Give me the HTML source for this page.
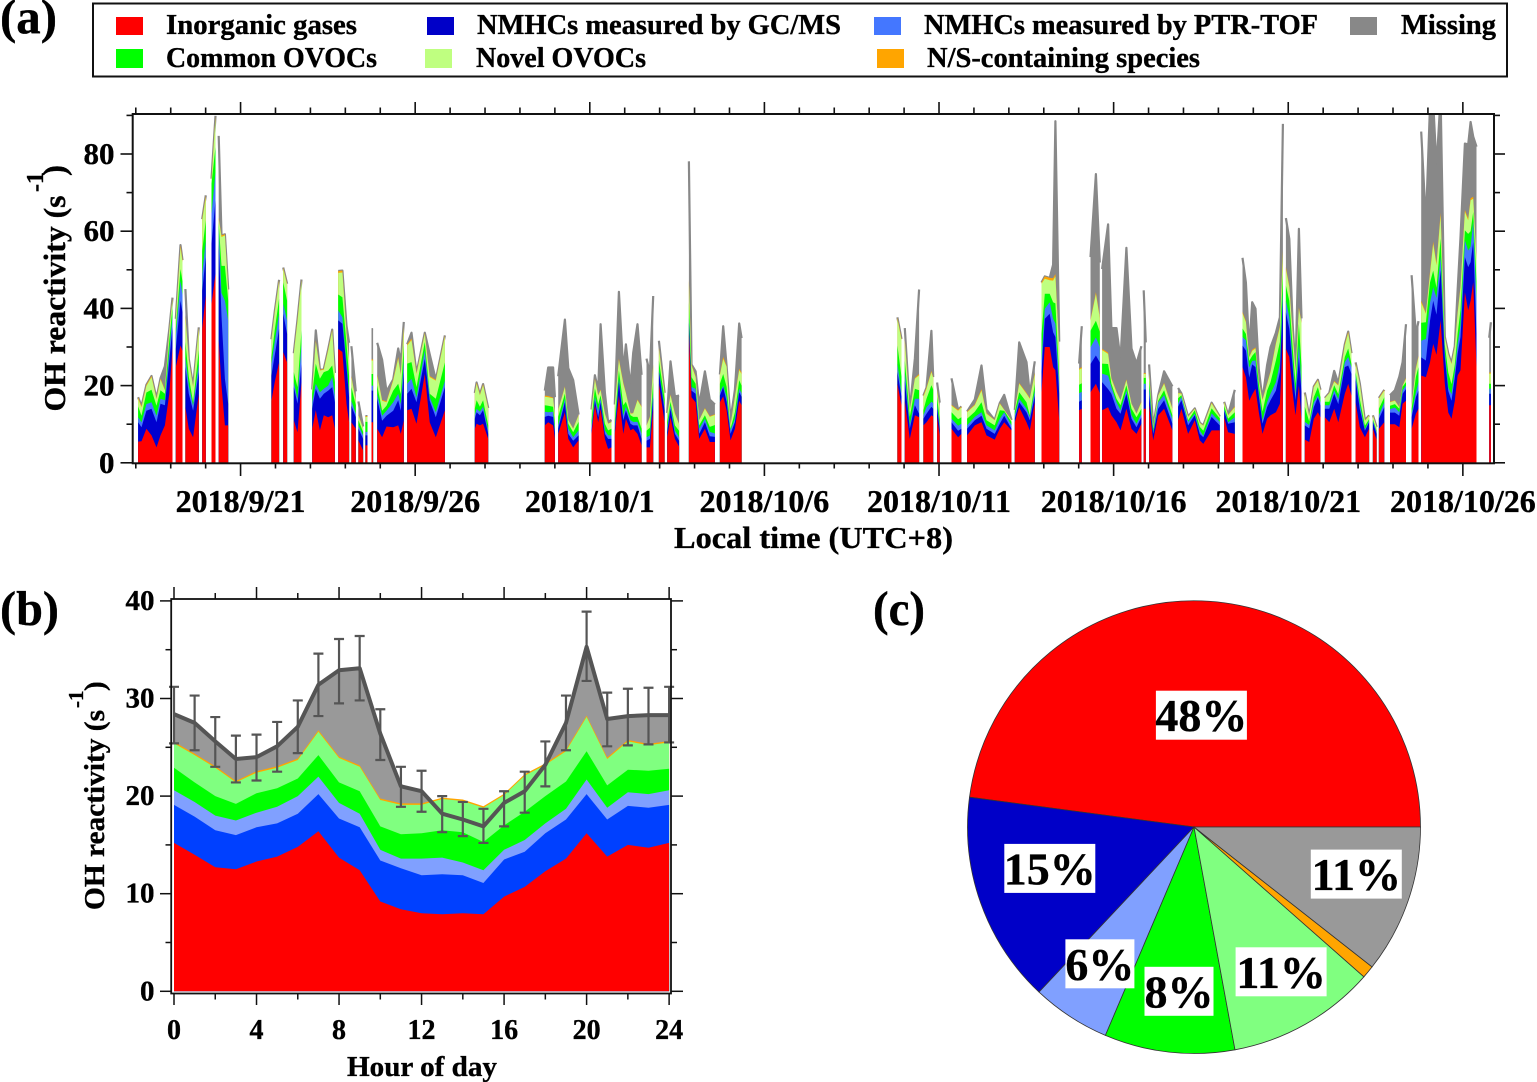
<!DOCTYPE html>
<html lang="en">
<head>
<meta charset="utf-8">
<title>OH reactivity time series, diurnal profile and composition</title>
<style>
html,body{margin:0;padding:0;background:#fff;}
svg{display:block;position:absolute;left:0;top:0;}
text{font-family:"Liberation Serif",serif;font-weight:bold;fill:#000;stroke:#000;stroke-width:.35px;}
</style>
</head>
<body>
<svg id="figure" xmlns="http://www.w3.org/2000/svg" width="1537" height="1082" viewBox="0 0 1537 1082">
  <rect x="0" y="0" width="1537" height="1082" fill="#fff"/>
  <text x="0" y="33" font-size="49" textLength="57" lengthAdjust="spacingAndGlyphs">(a)</text>
  <text x="0" y="625" font-size="49" textLength="59" lengthAdjust="spacingAndGlyphs">(b)</text>
  <text x="873" y="625" font-size="49" textLength="52" lengthAdjust="spacingAndGlyphs">(c)</text>

  <g>
    <rect x="93" y="3.5" width="1414" height="73" fill="none" stroke="#111" stroke-width="2"/>
    <rect x="116" y="17" width="27" height="18" fill="#ff0000"/>
    <text x="166" y="34" font-size="28" textLength="191" lengthAdjust="spacingAndGlyphs">Inorganic gases</text>
    <rect x="427" y="17" width="27" height="18" fill="#0000c8"/>
    <text x="477" y="34" font-size="28" textLength="364" lengthAdjust="spacingAndGlyphs">NMHCs measured by GC/MS</text>
    <rect x="874" y="17" width="27" height="18" fill="#4477ff"/>
    <text x="924" y="34" font-size="28" textLength="394" lengthAdjust="spacingAndGlyphs">NMHCs measured by PTR-TOF</text>
    <rect x="1350" y="17" width="27" height="18" fill="#888888"/>
    <text x="1401" y="34" font-size="28" textLength="95" lengthAdjust="spacingAndGlyphs">Missing</text>
    <rect x="116" y="49" width="27" height="19" fill="#00ff00"/>
    <text x="166" y="67" font-size="28" textLength="211" lengthAdjust="spacingAndGlyphs">Common OVOCs</text>
    <rect x="425" y="49" width="27" height="19" fill="#bfff80"/>
    <text x="476" y="67" font-size="28" textLength="170" lengthAdjust="spacingAndGlyphs">Novel OVOCs</text>
    <rect x="877" y="49" width="27" height="19" fill="#ffa500"/>
    <text x="927" y="67" font-size="28" textLength="273" lengthAdjust="spacingAndGlyphs">N/S-containing species</text>
  </g>

  <defs>
    <clipPath id="plot-a-clip"><rect x="133" y="115" width="1361" height="348"/></clipPath>
  </defs>
  <g id="panel-a"></g>
  <text x="813.5" y="548" font-size="31" text-anchor="middle" textLength="279" lengthAdjust="spacingAndGlyphs">Local time (UTC+8)</text>
  <text transform="translate(65,411.5) rotate(-90)" font-size="31" textLength="216" lengthAdjust="spacingAndGlyphs">OH reactivity (s</text>
  <text transform="translate(43,192) rotate(-90)" font-size="24">-1</text>
  <text transform="translate(65,176) rotate(-90)" font-size="33">)</text>

  <g id="panel-b"></g>
  <text x="422" y="1076" font-size="29" text-anchor="middle" textLength="150" lengthAdjust="spacingAndGlyphs">Hour of day</text>
  <text transform="translate(104,910) rotate(-90)" font-size="28" textLength="200" lengthAdjust="spacingAndGlyphs">OH reactivity (s</text>
  <text transform="translate(83,708) rotate(-90)" font-size="21">-1</text>
  <text transform="translate(104,691) rotate(-90)" font-size="29">)</text>

  <g id="panel-c"></g>
</svg>

<script>
/* ---------- Panel (a): hours since 2018/9/18 00:00, one sub-array per continuous data run ---------- */
const timeHours = [
[1.6,3.9,7.3,10.8,14.2,17,20,23,25.2],[27.5,30.7,32.1],[34.1,36.4,39.4,43.3],[45.6,48.1],[52,54.8],[57,58.9,61.2,63.5],
[93.2,95.5,98.5],[101.3,104],[108.6,111.1,113.9],[121.2,123.7,126.5,129.2,132.2,135,136.8],[139.1,142,144.8,146.6],[148.2,151.2],[153,156.2],[157.8,159.2],[162,163.1],
[165.9,169.3,172.3,176.9,180.3,182.1,184.2],[186.5,189.5,192.9,198.6,202,206.2,212.4],[233,234.2,236.5,238.7,242.2],
[281.1,283.4,286.8,288],[290.3,294.9,297.2,300.6,304.3],[313.2,315.5,317.8,319.4,322.4,324.6,326.9],[329.2,332,335,336.8,340,341.8,344.8,347.6],[351,353.3,355.6],[359.5,363.4],[365.2,367.5,370.5,373.4],
[380.1,381.9,384.7,387.2,391.1,394.5,398],[401.4,403.7,406,408.7,411.7,414.7,416.3],
[523.4,526.2],[528.5,531.9,535.4,538.3],[541.3,543.4,546.8,548],[550.7,552.5],[560.6,565.1,567.4],[571.3,576.6,581.2,584.6,590.3,593.8,596.8,601.8],[604.1,607.1,612.1,614.4,617.8],[622.4,624.7,628.1,630.4,632,634.6],
[648.3,650.1],[656.1,659.8,662.5],[664.1,668.2,670.5,674,676.7,680.8,684.3,687.7,691.1],[692.7,694.1],[696.4,699.2,702.6,706.7,712.4],[716.3,718.6,723.2,727.8,731.2,733.6,739.3,745],[748,750.7,755.3],
[760.6,762.9,765.2,767.2,769.5,771.8,774.3,777.5,779.8,783.5,786.3,788.3],[790.4,792.7,795,797,799.3,801.1],[803.4,806.4,809.6,812.4,814.2],[817.2,820.2,823.6,826.4,830.9,833.2,835.5],[838.3,841.2,844.7,847.6],[850.2,852.7],[854.3,858],[861.9,865.3,868.3,870.6,872.9],[876.8,879.7,881.5],
[883.4,886.6,889.4,891.6,893.9,896.7,899.6,902,904.2,906.5,908.4,910.4,913.4,915.7,917.3,919.1,921.4],[930.1,931.3]
];
const inorganicGases = [
[5.5,5.6,8.8,7.1,4,7.1,9.7,17.9,29.8],[24.8,30.4,29],[14.4,8.8,6.6,17.9],[34.7,43.4],[41.2,49],[31.7,20,9.7,9.7],
[16.1,21,26],[28.7,26],[11,7.9,20.9],[8.8,13.6,8.4,12.3,11.8,12.3,8.8],[29.5,28.7,15.3,10.5],[10.5,8.8],[5.8,3.2],[4.5,4.5],[10.5,10.5],
[8.8,6.6,9.4,9.2,9.7,7.5,11],[13.6,14,10.1,23,10.5,6.6,13.6],[8.8,10.1,9.7,10.1,6.2],
[9.7,10.5,9.7,6.2],[7.5,13.1,6.2,4,5.8],[7.5,14.9,10.5,14,6.2,3.6,4],[7.5,17.4,7.5,11.4,8.4,8.8,7.5,4.5],[4,4,14],[20.5,10.5],[6.6,11.8,6.2,4.2],
[33.4,17,15.7,6.2,8.8,5.4,5.4],[15.7,17.2,13.6,5.8,8.8,16.1,14.9],
[20.5,14.9],[16.1,6.2,12.3,11.8],[9.7,10.5,12.3,12],[11.8,7],[8.8,6.6,7.5],[7.1,9.7,10.5,7.1,6,8.8,10.5,8.4],[10.5,14.4,10.5,8.4,15.7],[18.3,30,30,24.8,24,11],
[13.6,14],[18.3,20.5,18],[13.6,14.4,12.3,10.5,8.4,14,8.8,7.5,10.1],[14,14],[14.9,5.8,12.3,14,8.4],[11,14,7.5,11,5.8,4.9,8.4,8.4],[11.8,7.9,7.5],
[24.8,22.2,16.1,17.7,19.2,13.1,7.5,11.4,12.3,13.1,15.3,33],[29.5,27.4,18.3,12.3,20,11],[6,5.4,11.4,13.1,11.8],[11.8,10.5,14,10.5,17.9,20.5,17.4],[15.7,9.2,6.6,8.8],[8.8,6],[8.8,10.5],[10,10,9.2,15.3,16.1],[8.8,12.7,14],
[22.6,22.2,26,30.8,28,36.9,20.5,13,11.4,16,22.6,24,44.2,39.5,42,46.8,24.8],[14.9,14.9]
];
const nmhcGcms = [
[5,3.6,4.7,6.9,6.5,8.2,5.2,8.6,5.4],[4.7,11.6,10],[10.4,9.1,6.9,5.6],[9.9,9.9],[15.5,19],[25,18,12.1,5.6],
[6.5,7,8.7],[9.9,7.4],[8.6,7.4,4.7],[5.2,5.6,8.2,5.6,6.9,7.3,6.9],[7.4,7.3,9.5,6.5],[4.3,3],[3,3],[2.6,2.6],[8.2,8.2],
[7.8,4.3,2.8,4.3,6.5,6,12.5],[4.3,5.2,5.6,3.9,5.6,5.2,6],[2.6,3,2.6,3.5,1.3],
[2.2,1.7,2.2,1.5],[1.3,2.6,1.3,1.7,1.3],[.9,1.3,1.3,1.7,1.3,2.6,2.2],[.9,3.5,3.5,2.2,1.7,.9,2.2,1.7],[1.7,2.2,3],[3,3],[1.3,2.2,1.3,1.5],
[3,1.7,2.2,1.3,1.7,1.5,1.3],[1.7,2.4,2.2,1.7,1.7,2.2,2.2],
[3,2.2],[5.2,2.6,2.6,.9],[1.7,2.2,2.2,2],[2.2,1.7],[1.7,1.7,1.3],[1.7,1.3,1.7,1.7,1.5,1.3,1.7,.4],[.9,1.3,2.6,2.6,1.7],[5.2,7.3,8.6,9,8.6,6.9],
[2.2,2.2],[7.3,7.3,8],[7.3,4.7,5.6,3.5,4.3,3.9,2.6,1.7,1.7],[5,5],[2.6,1.7,1.7,2.2,1.7],[3.5,2.2,2.2,1.3,1.7,1.7,3.5,1.3],[1.7,2.2,3],
[5.6,6.9,6,7.8,5.6,4.3,2.6,3,3.9,5.6,8.2,9],[9.5,7.3,6.5,3.9,7.3,7.3],[3.7,3.5,3,3.9,3],[2.2,3.5,3.9,4.7,6.9,4.7,5.6],[6,4.7,1.7,1.7],[1.7,1.5],[2.6,3.9],[3,3,3,2.6,3],[3,4.3,4.7],
[4.7,4.3,10.8,11.2,10.4,13,6.9,5.6,4.7,6,5.6,8.6,9.1,11.2,10,10.4,8.6],[3,3]
];
const nmhcPtrTof = [
[1.3,1.3,1.7,1.7,1.7,1.3,1.3,2.6,2.6],[3.5,5.2,4.5],[2.6,2.2,1.3,2.2],[4.3,4.3],[7.8,7.3],[4,6,20.2,21.6],
[3,3.5,3.9],[2.6,3.5],[1.3,1.3,5.2],[1.7,1.3,1.7,1.3,1.3,2.6,1.7],[2.6,1.7,.9,1],[1.3,.9],[.9,.9],[.9,.9],[1.3,1.3],
[1.3,1.3,1.3,2.2,1.7,1.7,3],[2.6,2.6,1.3,2.2,.9,1.3,1.7],[.9,.9,.9,.9,.9],
[1.3,.9,1.3,.9],[.9,.9,1.3,.9,1.3],[.9,.9,1.7,.9,.9,.9,.9],[.9,.9,1.3,.9,.9,.9,.9,1.3],[.9,.9,1.3],[.4,1],[.9,.9,.9,.9],
[1.3,.9,1.3,1.3,.9,1.1,.9],[.9,.4,1.3,.9,.9,.9,.9],
[2.2,.9],[2.2,.9,1.7,3.9],[.9,1.7,1.3,1.5],[.9,.9],[.9,1.3,1.3],[.9,.9,.9,.9,.9,1.3,.9,.9],[.9,.9,.9,.9,1.3],[3,2.6,3,3.5,3.5,2.6],
[2.2,2.2],[4.3,4.7,4],[2.2,3.5,1.7,1.7,.9,.9,.9,.9,.9],[1.5,1.5],[2.2,.4,1.7,1.3,1.3],[.9,.9,.9,.4,.9,.4,.9,.9],[.4,.4,1.3],
[2.2,2.6,2.6,.9,1.7,.9,.9,1.3,1.7,2.2,2.2,2.6],[3,3,1.7,1.7,3.5,1.7],[.9,.9,1.3,.4,.9],[.9,.9,.9,1.3,1.3,2.2,1.7],[.9,1.3,.4,.4],[.4,.4],[.9,1.3],[.9,1.3,.9,.9,.9],[.9,1.3,2.2],
[4.3,5.6,4.7,3.5,4.3,3.5,1.5,.9,1.7,1.7,2.6,3,4.3,4.3,4,5.2,8.6],[1.3,1.3]
];
const commonOvocs = [
[2.8,1.7,3,3.2,2.6,2.2,1.7,2.6,2.6],[1.7,3,3.5],[3.9,2.2,.9,3.5],[6,5.2],[7.8,6.5],[1.5,7,9,5.1],
[1.7,3,3.9],[5.6,5.1],[2.6,3,3.5],[2.2,5.2,3.5,4.3,3.9,3,3.5],[4.1,5.2,5.2,4.5],[3.5,2.2],[1.3,.9],[2.6,2.6],[3,3],
[2.2,1.3,1.3,3,2.6,2.6,4],[5.2,4.3,2.6,2.2,.9,3.5,4.7],[1.7,2.2,1.3,1.7,1.3],
[1.7,1.7,1.3,1.5],[2.2,1.3,1.3,1.3,2.2],[1.7,2.2,1.7,.9,1.7,1.3,1.7],[1.7,2.2,2.6,1.3,1.3,1.3,1.3,1.3],[1.7,2,2.6],[2.6,2],[1.7,.9,1.3,1.7],
[3.9,2.6,1.3,.9,.9,1.3,2.2],[2.2,3,2.6,.4,1.7,2.2,2],
[4.7,4.3],[3,2.2,2.6,2.2],[1.3,2.2,4.3,3.5],[2.2,1.5],[1.7,1.7,1.7],[1.7,1.3,2.6,1.3,1.3,2.2,.4,.9],[.9,1.7,1.7,.4,1.7],[6.9,3.9,2.2,4.3,5.2,1.7],
[2.2,2.2],[4.3,4.3,4],[2.6,3,.9,.9,1.3,1.3,1.7,1.7,1.3],[1.5,1.5],[1.7,.9,.4,1.3,.9],[1.3,.4,.4,.9,.9,1.3,1.3,.9],[.9,.9,1.3],
[2.2,1.7,1.7,1.3,2.2,2.2,2.2,3,3,5.6,5.6,4.3],[3.9,4.3,3.5,2.6,5.2,5.2],[3.9,.9,1.3,2.2,1.3],[.9,.9,1.3,1.3,1.3,2.2,.9],[.9,1.3,.9,.4],[.4,.4],[1.7,1.3],[.9,.9,.9,.9,.9],[1.3,4,3.9],
[4.7,4.3,5.2,4.3,2.6,4.7,1.7,3.9,2.6,1.7,2.6,4,2.6,4.3,4,2.6,5],[1.3,1.3]
];
const novelOvocs = [
[2,2.2,1.7,3.3,1.7,2.8,.9,2.6,2],[2.2,5.6,5],[6.5,4.3,3.9,5.6],[7.8,6],[.8,7.6],[1,7.5,7.9,2.6],
[4.4,4.5,4.5],[3.5,4.1],[4.7,17,12.9],[.9,5.6,2.1,.6,5.2,9,2.2],[5.6,6.4,2.6,4],[2.6,1.2],[1.3,.9],[1.3,1.3],[3.5,3.5],
[2.6,2.6,.9,2.6,6.5,5,4.5],[4.7,5.7,3.4,2.1,4.3,4.7,6.7],[3.9,4.3,3,3.9,4.3],
[2.2,2.2,2.2,2.2],[1.7,1.7,.9,.9,1.7],[2.6,2.2,2.2,1.3,2.6,1.7,1.7],[3.9,2.6,5.6,2.2,.4,.9,4.3,5.6],[1.3,2.7,4.3],[3,1.4],[2.2,1.7,3,1.7],
[5.2,3,1.7,1.3,1.7,2.6,2.6],[2.2,3.9,5.2,.9,3.9,2.6,3],
[6.9,9.4],[5.2,1.7,2.6,3.9],[3.5,2.6,3.4,3],[1.7,3],[1.7,2.2,2.6],[1.7,1.7,3,1.7,1.3,1.7,.2,.4],[.4,2.2,2.2,4.3,2.6],[13,3.9,3.5,5.6,7,6.9],
[3.9,3.9],[2.6,6.9,3.5],[3.5,2.6,1.3,1.7,1.3,1.3,1.3,.9,1.7],[1,1],[1.7,.4,1.3,1.7,1.7],[1.3,.4,.9,.4,1,1.3,1.3,.4],[.9,.9,1.3],
[3.9,3,.9,1.3,.9,.9,3,1.7,2.6,4.3,3.8,5.6],[4.3,3.5,3.9,3,3.9,11],[3.5,1.3,2.6,1.7,1.7],[.9,2.2,.9,2.2,3,4,2.6],[2.2,3.9,1.3,.9],[.9,.9],[2.6,1.7],[.9,.9,.4,.3,.9],[.9,2.1,2.6],
[5.2,2.2,2.2,6.9,5.9,6,1.9,4.7,5.2,4.6,5.2,5.8,4.8,3.5,8,3.4,5.5],[2.6,2.6]
];
const nsSpecies = [
[.4,.3,.3,.3,.2,.3,.2,.3,.4],[.4,.6,.5],[.3,.3,.2,.3],[.4,.5],[.5,.5],[.3,.4,.3,.3],
[.3,.3,.4],[.3,.3],[.2,.5,.3],[.2,.4,.2,.2,.3,.3,.2],[.5,.5,.3,.2],[.2,.2],[.2,.1],[.2,.2],[.3,.3],
[.2,.2,.2,.3,.4,.3,.3],[.3,.4,.2,.3,.3,.2,.3],[.2,.3,.2,.3,.2],
[.3,.3,.2,.2],[.2,.2,.1,.1,.2],[.2,.3,.2,.2,.2,.1,.1],[.2,.4,.3,.2,.1,.1,.2,.2],[.1,.2,.3],[.3,.2],[.2,.2,.2,.1],
[.6,.3,.2,.1,.2,.2,.2],[.2,.5,.2,.1,.2,.4,.3],
[.4,.4],[.4,.1,.2,.3],[.3,.3,.3,.2],[.2,.2],[.2,.2,.2],[.2,.2,.4,.2,.1,.2,.1,.1],[.1,.2,.2,.2,.3],[.3,.6,.6,.6,.6,.3],
[.3,.3],[.3,.5,.4],[.3,.3,.2,.2,.1,.2,.1,.1,.2],[.2,.2],[.2,.1,.1,.2,.2],[.1,.1,.1,.1,.1,.1,.2,.1],[.1,.1,.2],
[.4,.3,.2,.3,.3,.2,.2,.2,.3,.3,.4,.5],[.5,.4,.3,.2,.4,.2],[.2,.1,.2,.2,.2],[.1,.1,.2,.2,.3,.4,.2],[.3,.2,.1,.1],[.1,.1],[.2,.2],[.1,.1,.1,.1,.2],[.1,.3,.3],
[.5,.3,.6,.6,.5,.7,.2,.2,.2,.2,.4,.4,.5,.5,.5,.5,.4],[.3,.3]
];
const missingSpecies = [
[0,0,0,0,0,0,6,0,0],[0,0,0],[6.9,0,0,0],[0,0],[0,0],[21.2,0,0,0],
[0,0,0],[0,0],[0,0,0],[0,2.6,0,0,0,0,0],[0,0,1.7,4.4],[7.8,2.2],[3.4,.4],[0,0],[7.8,7.8],
[8.2,10.4,2.6,0,2.2,3,1.2],[0,1.5,0,0,5.6,0,0],[0,0,0,0,0],
[1.3,7.4,7.8,4.5],[8.6,17.3,13.4,12.5,0],[0,.9,1.3,16.9,5.2,.4,.5],[0,17.3,3,12.5,6.9,15.6,19.5,8.2],[17.3,11.2,17.7],[1.8,0],[0,8.6,4.3,7.3],
[30.7,0,1.3,3.9,9.5,4.3,2.5],[0,8,0,1.3,1.7,11.7,9],
[0,0],[2.8,0,5.1,21.9],[0,0,10.4,0],[1.8,1.3],[6.9,0,0],[0,1.3,6.1,.9,0,0,3.8,0],[0,10.5,8,1,3],[0,0,0,3.5,39.6,2],
[1.3,10.6],[16.2,30.6,14],[20.7,33.3,12.9,16.4,10.4,34.1,14.2,12.9,14.3],[21.5,8],[2.2,0,0,3,5.6],[1.3,0,0,0,0,0,0,0],[0,0,4.3],
[14,10,2,12.3,10,2.6,0,4.7,6.1,2.6,2.2,32.8],[12.7,12.1,2,0,20.3,1],[0,0,0,0,0],[0,0,2.6,.4,0,0,0],[0,0,0,0],[0,0],[0,0],[1.7,2.6,7.8,6,13.9],[33.6,8.6,9],
[43.8,23.3,43,36,25,30,0,0,0,0,5.6,12.6,17.2,19.2,19.8,15.6,29],[9,13]
];
const dateTickLabels = ['2018/9/21','2018/9/26','2018/10/1','2018/10/6','2018/10/11','2018/10/16','2018/10/21','2018/10/26'];
const reactivityTicksA = [0,20,40,60,80];

/* ---------- Panel (b): mean diurnal profile ---------- */
const hourOfDay = [0,1,2,3,4,5,6,7,8,9,10,11,12,13,14,15,16,17,18,19,20,21,22,23,24];
const diurnalInorganic = [15.2,14,12.7,12.5,13.3,13.8,14.8,16.4,13.7,12.4,9.2,8.4,8,7.9,8,7.9,9.7,10.7,12.3,13.6,16.2,13.8,15,14.7,15.2];
const diurnalNmhcGcms = [3.9,3.9,3.8,3.5,3.5,3.4,3.4,3.8,4,4.4,4.2,4.2,3.9,4.1,3.9,3.2,3.8,3.6,3.9,4,4,3.8,4,4.1,3.9];
const diurnalNmhcPtrTof = [1.5,1.5,1.5,1.5,1.5,1.7,1.8,1.8,1.6,1.4,1.1,1,1.7,1.7,1.3,1.3,1,1.2,1,1.1,1.5,1.2,1.4,1.4,1.5];
const diurnalCommonOvocs = [2.3,2,2,1.7,2,1.9,1.8,2.2,2.1,2.3,2.4,2.5,2.6,2.8,3.1,2.9,2.5,2.9,2.8,2.8,2.9,2.3,2.3,2.4,2.2];
const diurnalNovelOvocs = [2.5,2.8,2.9,2.2,2.1,2.1,1.9,2.4,2.5,2.5,2.7,3,2.9,3.2,3.2,3.5,3.1,3.7,3.2,3.1,3.5,2.7,2.9,2.6,2.7];
const diurnalNsSpecies = [.15,.15,.15,.15,.15,.15,.15,.15,.15,.15,.15,.15,.15,.15,.15,.15,.15,.15,.15,.15,.15,.15,.15,.15,.15];
const diurnalMeasuredTotal = [28.4,27.5,25.6,23.8,24,25.1,27.1,31.4,32.9,33.1,26.4,21,20.5,18.2,17.6,16.9,19.3,20.5,23.2,27.5,35.3,27.9,28.2,28.3,28.3];
const diurnalErrorUpper = [31.2,30.3,28.1,26.2,26.3,27.6,29.8,34.6,36.1,36.4,28.9,23,22.6,20,19.4,18.7,20.5,22.5,25.6,30.3,38.9,30.6,31,31.1,31.2];
const diurnalErrorLower = [25.4,24.7,23,21.4,21.6,22.5,24.4,28.2,29.5,29.8,23.7,18.9,18.4,16.3,15.9,15.2,16.9,18.3,21,24.7,31.8,25.1,25.2,25.3,25.5];
const hourTickLabels = [0,4,8,12,16,20,24];
const reactivityTickLabelsB = [0,10,20,30,40];

/* ---------- Panel (c): composition ---------- */
const sliceNames = ['inorganic-gases','nmhcs-gcms','nmhcs-ptr-tof','common-ovocs','novel-ovocs','ns-species','missing'];
const sliceValues = [47.9,15.1,5.6,9.3,10.6,0.9,10.6];
const sliceLabels = ['48%','15%','6%','8%','11%','','11%'];

/* ---------- drawing ---------- */
const SVGNS = 'http://www.w3.org/2000/svg';
function make(tag, attrs, parent){
  const e = document.createElementNS(SVGNS, tag);
  for (const k in attrs) e.setAttribute(k, attrs[k]);
  parent.appendChild(e);
  return e;
}
function tick(parent, x1, y1, x2, y2, width, name){
  const t = make('line', {x1:x1, y1:y1, x2:x2, y2:y2, stroke:'#111', 'stroke-width':width}, parent);
  
  
}
function label(parent, x, y, size, anchor, str, name){
  const t = make('text', {x:x, y:y, 'font-size':size, 'text-anchor':anchor}, parent);
  t.textContent = str;
  
  
}

/* Panel a */
(function(){
  const root = document.getElementById('panel-a');
  const xA = h => 135.8 + h * 1.4551;
  const yA = v => 462.8 - v * 3.86;
  const layersA = [
    {name:'missing', color:'#888888', upto:7},
    {name:'ns-species', color:'#ffa500', upto:6},
    {name:'novel-ovocs', color:'#bfff80', upto:5},
    {name:'common-ovocs', color:'#00ff00', upto:4},
    {name:'nmhcs-ptr-tof', color:'#4477ff', upto:3},
    {name:'nmhcs-gcms', color:'#0000d0', upto:2},
    {name:'inorganic-gases', color:'#ff0000', upto:1}
  ];
  const stack = [inorganicGases, nmhcGcms, nmhcPtrTof, commonOvocs, novelOvocs, nsSpecies, missingSpecies];
  const plot = make('g', {'clip-path':'url(#plot-a-clip)'}, root);
  
  
  layersA.forEach(layer => {
    let d = '';
    let outline = '';
    timeHours.forEach((run, s) => {
      let top = '';
      let edge = '';
      run.forEach((h, i) => {
        let sum = 0;
        for (let k = 0; k < layer.upto; k++) sum += (stack[k][s] && stack[k][s][i]) || 0;
        const px = xA(h).toFixed(1) + ' ' + yA(sum).toFixed(1);
        top += 'L' + px;
        edge += (i ? 'L' : 'M') + px;
      });
      d += 'M' + xA(run[0]).toFixed(1) + ' ' + yA(0) + top + 'L' + xA(run[run.length - 1]).toFixed(1) + ' ' + yA(0) + 'Z';
      outline += edge;
    });
    if (layer.name === 'missing') {
      const topEdge = make('path', {d:outline, fill:'none', stroke:'#888888', 'stroke-width':2.2, 'stroke-linejoin':'round'}, plot);
      
      
    }
    const area = make('path', {d:d, fill:layer.color}, plot);
    
    
  });
  const frame = make('rect', {x:132.7, y:114, width:1361.3, height:349.3, fill:'none', stroke:'#111', 'stroke-width':2}, root);
  
  
  for (let d = 0; d <= 38; d++){
    const major = (d - 3) % 5 === 0 && d >= 3;
    const x = xA(d * 24);
    tick(root, x, 114, x, major ? 102 : 107.5, 1.6, 'panel-a-top-tick');
    tick(root, x, 463.3, x, major ? 476 : 468.5, 1.6, 'panel-a-bottom-tick');
    if (major) label(root, x, 512, 32, 'middle', dateTickLabels[(d - 3) / 5], 'panel-a-x-tick-label');
  }
  for (let v = 0; v <= 90; v += 10){
    const major = v % 20 === 0;
    const y = yA(v);
    tick(root, 132.7, y, major ? 120.5 : 126.5, y, 1.6, 'panel-a-left-tick');
    tick(root, 1494, y, major ? 1505 : 1500, y, 1.6, 'panel-a-right-tick');
  }
  reactivityTicksA.forEach(v => {
    label(root, 114.5, yA(v) + 10, 31, 'end', String(v), 'panel-a-y-tick-label');
  });
})();

/* Panel b */
(function(){
  const root = document.getElementById('panel-b');
  const xB = h => 174 + h * 20.63;
  const yB = v => 991.3 - v * 9.76;
  const layersB = [
    {name:'ns-species', color:'#ffa500', upto:6},
    {name:'novel-ovocs', color:'#80ff80', upto:5},
    {name:'common-ovocs', color:'#00ff00', upto:4},
    {name:'nmhcs-ptr-tof', color:'#80a0ff', upto:3},
    {name:'nmhcs-gcms', color:'#0040ff', upto:2},
    {name:'inorganic-gases', color:'#ff0000', upto:1}
  ];
  const stackB = [diurnalInorganic, diurnalNmhcGcms, diurnalNmhcPtrTof, diurnalCommonOvocs, diurnalNovelOvocs, diurnalNsSpecies];
  const plot = make('g', {}, root);
  
  
  const areaPath = vals => 'M' + xB(hourOfDay[0]) + ' ' + yB(0) +
    hourOfDay.map((h, i) => 'L' + xB(h).toFixed(1) + ' ' + yB(vals[i]).toFixed(1)).join('') +
    'L' + xB(hourOfDay[hourOfDay.length - 1]) + ' ' + yB(0) + 'Z';
  const gray = make('path', {d:areaPath(diurnalMeasuredTotal), fill:'#999999'}, plot);
  
  
  layersB.forEach(layer => {
    const sums = hourOfDay.map((h, i) => {
      let sum = 0;
      for (let k = 0; k < layer.upto; k++) sum += stackB[k][i];
      return sum;
    });
    const area = make('path', {d:areaPath(sums), fill:layer.color}, plot);
    
    
  });
  const linePath = hourOfDay.map((h, i) => (i ? 'L' : 'M') + xB(h).toFixed(1) + ' ' + yB(diurnalMeasuredTotal[i]).toFixed(1)).join('');
  const totalLine = make('path', {d:linePath, fill:'none', stroke:'#555', 'stroke-width':4, 'stroke-linejoin':'round'}, plot);
  
  
  hourOfDay.forEach((h, i) => {
    const x = xB(h), yU = yB(diurnalErrorUpper[i]), yL = yB(diurnalErrorLower[i]);
    const d = 'M' + x + ' ' + yU + 'L' + x + ' ' + yL + 'M' + (x - 5) + ' ' + yU + 'L' + (x + 5) + ' ' + yU + 'M' + (x - 5) + ' ' + yL + 'L' + (x + 5) + ' ' + yL;
    const bar = make('path', {d:d, fill:'none', stroke:'#555', 'stroke-width':2.2}, plot);
    
    
  });
  const frame = make('rect', {x:171.2, y:599, width:499.8, height:394.5, fill:'none', stroke:'#111', 'stroke-width':1.8}, root);
  
  
  for (let h = 0; h <= 24; h += 2){
    const major = h % 4 === 0;
    const x = xB(h);
    tick(root, x, 599, x, major ? 587 : 593, 1.5, 'panel-b-top-tick');
    tick(root, x, 993.5, x, major ? 1005 : 999.5, 1.5, 'panel-b-bottom-tick');
  }
  for (let v = 0; v <= 40; v += 5){
    const major = v % 10 === 0;
    const y = yB(v);
    tick(root, 171.2, y, major ? 160 : 165.5, y, 1.5, 'panel-b-left-tick');
    tick(root, 671, y, major ? 683 : 677, y, 1.5, 'panel-b-right-tick');
  }
  hourTickLabels.forEach(h => {
    label(root, xB(h), 1039, 28, 'middle', String(h), 'panel-b-x-tick-label');
  });
  reactivityTickLabelsB.forEach(v => {
    label(root, 154.5, yB(v) + 9, 29, 'end', String(v), 'panel-b-y-tick-label');
  });
})();

/* Panel c */
(function(){
  const root = document.getElementById('panel-c');
  const cx = 1194, cy = 827, r = 226.5;
  const sliceColors = ['#ff0000','#0000c8','#80a0ff','#00ff00','#80ff80','#ffa500','#999999'];
  const labelRadius = [112,150,166,165,169,0,169];
  const labelAngleOffset = [0,-3.6,-1.4,1.1,1.5,0,2.9];
  const total = sliceValues.reduce((a, b) => a + b, 0);
  const pt = (deg, rad) => [cx + rad * Math.cos(deg * Math.PI / 180), cy - rad * Math.sin(deg * Math.PI / 180)];
  let start = 0;
  const mids = [];
  sliceValues.forEach((v, i) => {
    const sweep = v / total * 360;
    const a = pt(start, r), b = pt(start + sweep, r);
    const d = 'M' + cx + ' ' + cy + 'L' + a[0].toFixed(1) + ' ' + a[1].toFixed(1) +
      'A' + r + ' ' + r + ' 0 ' + (sweep > 180 ? 1 : 0) + ' 0 ' + b[0].toFixed(1) + ' ' + b[1].toFixed(1) + 'Z';
    const slice = make('path', {d:d, fill:sliceColors[i], stroke:'#333', 'stroke-width':0.8}, root);
    
    
    mids.push(start + sweep / 2);
    start += sweep;
  });
  sliceLabels.forEach((txt, i) => {
    if (!txt) return;
    const p = pt(mids[i] + labelAngleOffset[i], labelRadius[i]);
    const w = txt.length === 3 ? 91 : 69;
    const box = make('rect', {x:(p[0] - w / 2).toFixed(1), y:(p[1] - 24.5).toFixed(1), width:w, height:49, fill:'#fff'}, root);
    
    
    label(root, p[0].toFixed(1), (p[1] + 16).toFixed(1), 46, 'middle', txt, 'slice-label-' + sliceNames[i]);
  });
})();
</script>
</body>
</html>
